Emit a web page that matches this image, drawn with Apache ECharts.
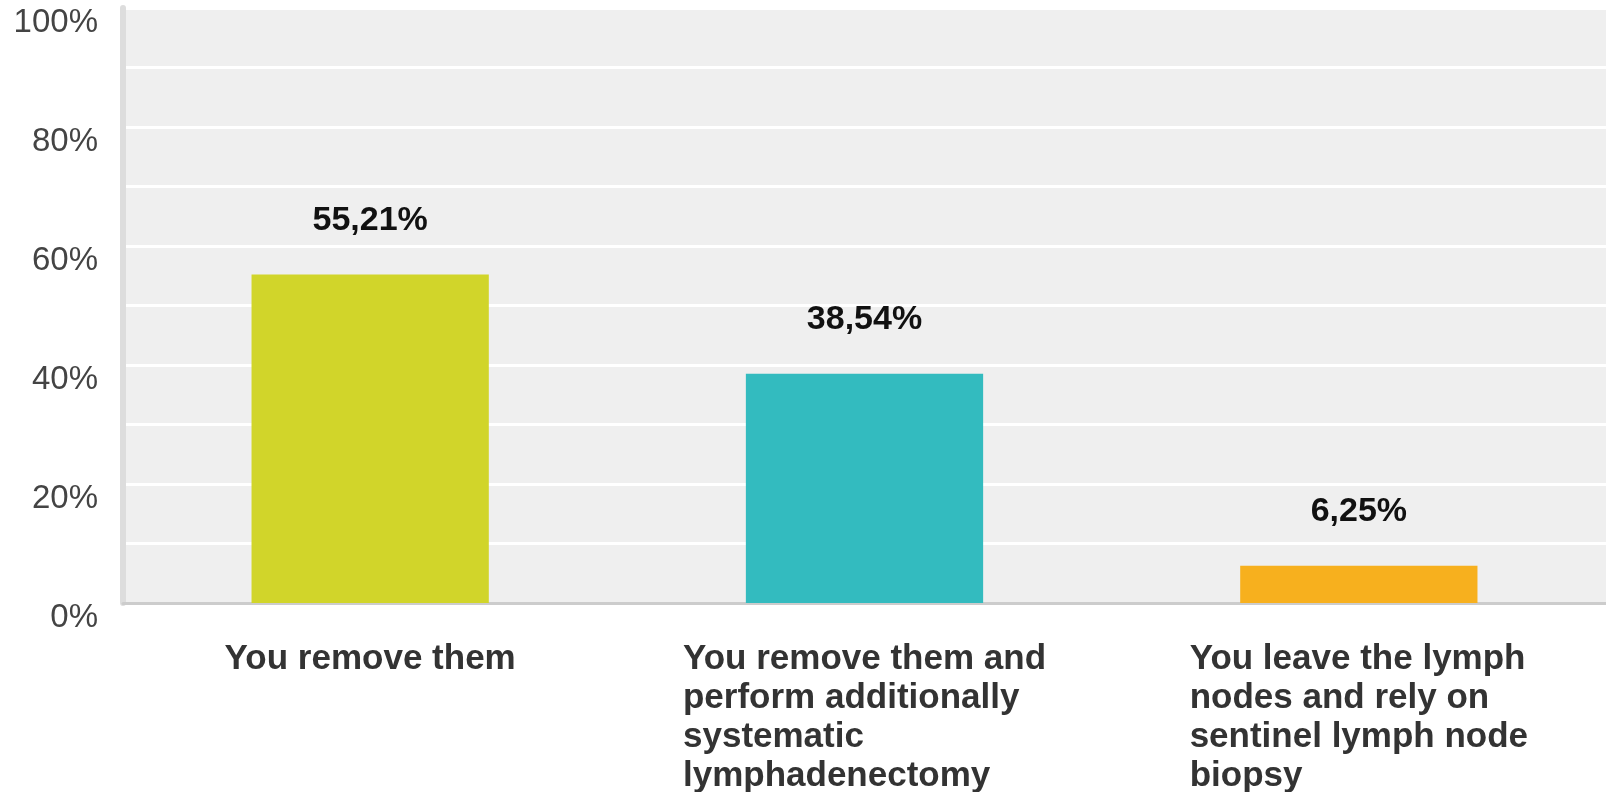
<!DOCTYPE html>
<html>
<head>
<meta charset="utf-8">
<script src="https://cdn.jsdelivr.net/npm/echarts@6/dist/echarts.min.js"></script>
<style>
html,body{margin:0;padding:0;background:#fff;}
#chart{width:1606px;height:792px;}
</style>
</head>
<body>
<div id="chart"></div>
<script>
var categories = [
  'You remove them',
  'You remove them and\nperform additionally\nsystematic\nlymphadenectomy',
  'You leave the lymph\nnodes and rely on\nsentinel lymph node\nbiopsy'
];
var values = [55.21, 38.54, 6.25];
var barColors = ['#d1d52a', '#33bbbf', '#f7b01e'];
var yTicks = [0, 20, 40, 60, 80, 100];

var chart = echarts.init(document.getElementById('chart'));
chart.setOption({
  animation: false,
  grid: {
    left: 123, right: 0, top: 8, bottom: 189,
    outerBoundsMode: 'none',
    containLabel: false,
    show: true, backgroundColor: '#efefef', borderWidth: 0
  },
  xAxis: {
    type: 'category',
    data: categories,
    axisLine: { show: true, lineStyle: { color: '#cccccc', width: 3 } },
    axisTick: { show: false },
    axisLabel: {
      interval: 0,
      margin: 37,
      formatter: function (v) {
        return v.split('\n').map(function (l) { return '{a|' + l + '}'; }).join('\n');
      },
      rich: {
        a: {
          align: 'left',
          fontFamily: 'Liberation Sans, Arial, sans-serif',
          fontWeight: 'bold',
          fontSize: 35,
          lineHeight: 39,
          color: '#333333'
        }
      }
    }
  },
  yAxis: {
    type: 'value',
    min: 0, max: 100, interval: 10,
    axisLine: { show: true, lineStyle: { color: '#dddddd', width: 6 } },
    axisTick: { show: false },
    splitLine: { show: true, lineStyle: { color: '#ffffff', width: 3 } },
    axisLabel: {
      margin: 25,
      verticalAlign: 'top',
      lineHeight: 29,
      fontFamily: 'Liberation Sans, Arial, sans-serif',
      fontSize: 33,
      color: '#444444',
      formatter: function (v) { return yTicks.indexOf(v) >= 0 ? v + '%' : ''; }
    }
  },
  series: [{
    type: 'bar',
    barWidth: '48%',
    data: values.map(function (v, i) {
      return { value: v, itemStyle: { color: barColors[i] } };
    }),
    label: {
      show: true,
      position: 'top',
      distance: 37,
      fontFamily: 'Liberation Sans, Arial, sans-serif',
      fontWeight: 'bold',
      fontSize: 34,
      color: '#111111',
      formatter: function (p) { return p.value.toFixed(2).replace('.', ',') + '%'; }
    }
  }]
});
</script>
</body>
</html>
